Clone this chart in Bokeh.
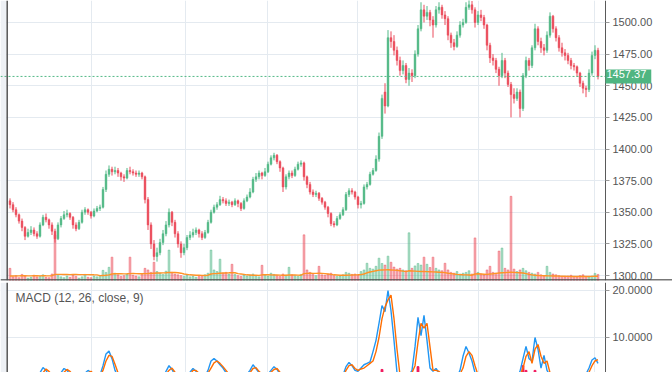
from bokeh.plotting import figure
from bokeh.models import (Range1d, FixedTicker, NumeralTickFormatter, Span, Label,
                          BoxAnnotation, ColumnDataSource)
from bokeh.layouts import column
from bokeh.embed import file_html
from bokeh.resources import INLINE

# ---------------- data ----------------
open_ = [
    1359, 1356, 1352, 1348, 1343, 1338, 1331, 1334, 1336, 1333,
    1331, 1340, 1346, 1344, 1340, 1335, 1329, 1340, 1345, 1348,
    1349, 1346, 1340, 1337, 1342, 1350, 1352, 1350, 1347, 1351,
    1353, 1354, 1368, 1380, 1384, 1382, 1383, 1381, 1378, 1377,
    1383, 1382, 1381, 1380, 1381, 1378, 1360, 1340, 1325, 1315,
    1318, 1326, 1333, 1340, 1350, 1342, 1333, 1325, 1318, 1322,
    1330, 1332, 1334, 1336, 1333, 1330, 1334, 1342, 1350, 1354,
    1356, 1360, 1359, 1357, 1358, 1356, 1359, 1357, 1353, 1359,
    1362, 1366, 1376, 1378, 1381, 1379, 1382, 1388, 1393, 1395,
    1390, 1385, 1370, 1378, 1381, 1379, 1384, 1388, 1389, 1378,
    1372, 1366, 1364, 1365, 1361, 1358, 1354, 1349, 1341, 1340,
    1345, 1348, 1352, 1364, 1367, 1366, 1362, 1356, 1357, 1370,
    1372, 1380, 1383, 1392, 1410, 1445, 1434, 1488, 1485, 1478,
    1470, 1462, 1466, 1455, 1460, 1458, 1475, 1495, 1510, 1505,
    1508, 1502, 1498, 1510, 1512, 1506, 1503, 1490, 1484, 1481,
    1490, 1498, 1500, 1512, 1514, 1510, 1500, 1506, 1504, 1498,
    1482, 1472, 1470, 1463, 1458, 1470, 1460, 1451, 1443, 1440,
    1445, 1432, 1458, 1470, 1466, 1480, 1495, 1485, 1480, 1478,
    1490, 1505, 1495, 1488, 1480, 1476, 1474, 1470, 1466, 1465,
    1460, 1452, 1448, 1447, 1460, 1474, 1478,
]
high = [
    1361, 1358, 1354, 1349, 1345, 1339, 1337, 1339, 1338, 1335,
    1342, 1348, 1349, 1345, 1342, 1337, 1342, 1347, 1351, 1352,
    1350, 1347, 1342, 1344, 1352, 1354, 1353, 1351, 1353, 1355,
    1356, 1370, 1383, 1387, 1386, 1386, 1385, 1382, 1380, 1385,
    1386, 1384, 1383, 1383, 1382, 1379, 1362, 1342, 1328, 1322,
    1329, 1336, 1343, 1353, 1351, 1344, 1335, 1327, 1325, 1332,
    1335, 1337, 1338, 1337, 1335, 1336, 1344, 1352, 1356, 1358,
    1363, 1362, 1361, 1360, 1359, 1361, 1360, 1358, 1361, 1364,
    1369, 1378, 1381, 1383, 1382, 1385, 1390, 1395, 1397, 1396,
    1391, 1386, 1380, 1383, 1383, 1386, 1390, 1391, 1390, 1379,
    1374, 1368, 1367, 1366, 1362, 1359, 1355, 1350, 1343, 1347,
    1350, 1354, 1366, 1369, 1369, 1367, 1363, 1359, 1372, 1374,
    1382, 1385, 1395, 1413, 1443, 1452, 1494, 1493, 1490, 1481,
    1473, 1470, 1468, 1464, 1463, 1478, 1498, 1516, 1514, 1513,
    1510, 1505, 1513, 1516, 1514, 1509, 1505, 1492, 1487, 1493,
    1501, 1503, 1516, 1518, 1517, 1512, 1509, 1510, 1506, 1499,
    1484, 1475, 1472, 1465, 1476, 1472, 1462, 1453, 1448, 1448,
    1447, 1460, 1473, 1472, 1482, 1499, 1497, 1488, 1483, 1493,
    1508, 1506, 1497, 1490, 1484, 1479, 1476, 1472, 1468, 1466,
    1461, 1454, 1450, 1463, 1477, 1482, 1480,
]
low = [
    1353, 1350, 1346, 1341, 1335, 1328, 1330, 1332, 1331, 1329,
    1330, 1339, 1342, 1337, 1332, 1326, 1328, 1338, 1344, 1346,
    1344, 1337, 1335, 1336, 1341, 1348, 1348, 1345, 1346, 1350,
    1351, 1353, 1366, 1378, 1379, 1380, 1378, 1375, 1374, 1376,
    1380, 1379, 1378, 1378, 1376, 1357, 1336, 1321, 1312, 1311,
    1316, 1324, 1331, 1338, 1339, 1330, 1322, 1314, 1316, 1320,
    1328, 1330, 1332, 1330, 1328, 1329, 1333, 1341, 1349, 1352,
    1355, 1357, 1355, 1355, 1354, 1355, 1354, 1351, 1352, 1358,
    1361, 1365, 1374, 1376, 1376, 1378, 1381, 1387, 1391, 1388,
    1382, 1366, 1368, 1376, 1377, 1378, 1383, 1386, 1375, 1369,
    1364, 1362, 1362, 1359, 1356, 1352, 1346, 1339, 1338, 1339,
    1344, 1347, 1351, 1362, 1364, 1360, 1353, 1353, 1356, 1368,
    1371, 1379, 1382, 1390, 1408, 1428, 1433, 1480, 1474, 1466,
    1458, 1459, 1452, 1450, 1453, 1456, 1473, 1493, 1500, 1502,
    1497, 1488, 1496, 1507, 1503, 1498, 1486, 1480, 1478, 1480,
    1488, 1496, 1499, 1510, 1507, 1496, 1498, 1501, 1495, 1478,
    1468, 1466, 1460, 1450, 1456, 1456, 1449, 1425, 1436, 1438,
    1425, 1430, 1456, 1462, 1464, 1478, 1482, 1476, 1474, 1476,
    1488, 1492, 1485, 1477, 1473, 1470, 1467, 1463, 1462, 1457,
    1449, 1444, 1441, 1445, 1458, 1471, 1455,
]
close = [
    1356, 1352, 1348, 1343, 1338, 1331, 1334, 1336, 1333, 1331,
    1340, 1346, 1344, 1340, 1335, 1329, 1340, 1345, 1348, 1349,
    1346, 1340, 1337, 1342, 1350, 1352, 1350, 1347, 1351, 1353,
    1354, 1368, 1380, 1384, 1382, 1383, 1381, 1378, 1377, 1383,
    1382, 1381, 1380, 1381, 1378, 1360, 1340, 1325, 1315, 1318,
    1326, 1333, 1340, 1350, 1342, 1333, 1325, 1318, 1322, 1330,
    1332, 1334, 1336, 1333, 1330, 1334, 1342, 1350, 1354, 1356,
    1360, 1359, 1357, 1358, 1356, 1359, 1357, 1353, 1359, 1362,
    1366, 1376, 1378, 1381, 1379, 1382, 1388, 1393, 1395, 1390,
    1385, 1370, 1378, 1381, 1379, 1384, 1388, 1389, 1378, 1372,
    1366, 1364, 1365, 1361, 1358, 1354, 1349, 1341, 1340, 1345,
    1348, 1352, 1364, 1367, 1366, 1362, 1356, 1357, 1370, 1372,
    1380, 1383, 1392, 1410, 1440, 1434, 1488, 1485, 1478, 1470,
    1462, 1466, 1455, 1460, 1458, 1475, 1495, 1510, 1505, 1508,
    1502, 1498, 1510, 1512, 1506, 1503, 1490, 1484, 1481, 1490,
    1498, 1500, 1512, 1514, 1510, 1500, 1506, 1504, 1498, 1482,
    1472, 1470, 1463, 1458, 1470, 1460, 1451, 1443, 1440, 1445,
    1432, 1458, 1470, 1466, 1480, 1495, 1485, 1480, 1478, 1490,
    1505, 1495, 1488, 1480, 1476, 1474, 1470, 1466, 1465, 1460,
    1452, 1448, 1447, 1460, 1474, 1478, 1457.37,
]
volume = [
    300, 90, 120, 70, 150, 110, 60, 80, 130, 90,
    100, 140, 80, 70, 160, 1125, 120, 90, 70, 110,
    80, 130, 100, 60, 90, 150, 80, 70, 110, 90,
    120, 250, 200, 325, 575, 180, 140, 100, 120, 160,
    575, 130, 110, 90, 150, 300, 260, 200, 450, 220,
    180, 150, 230, 750, 200, 160, 140, 120, 100, 130,
    90, 110, 80, 100, 120, 140, 180, 750, 260, 220,
    525, 180, 200, 160, 400, 150, 120, 100, 140, 110,
    130, 160, 120, 90, 375, 140, 110, 180, 150, 120,
    100, 160, 130, 325, 140, 120, 100, 150, 1125, 260,
    200, 150, 120, 350, 140, 130, 160, 180, 120, 100,
    110, 140, 200, 180, 150, 160, 140, 220, 260, 425,
    300, 280, 350, 550, 420, 380, 600, 450, 330, 280,
    300, 260, 240, 1175, 300, 360, 420, 380, 575, 400,
    320, 575, 300, 260, 240, 425, 260, 200, 180, 220,
    160, 180, 200, 240, 160, 1050, 200, 160, 140, 260,
    350, 200, 180, 725, 800, 300, 260, 2075, 280, 220,
    260, 300, 240, 200, 180, 160, 200, 140, 120, 350,
    200, 160, 140, 120, 100, 90, 110, 130, 100, 80,
    120, 140, 100, 90, 110, 175, 150,
]
volume_ma = [
    110, 112, 115, 113, 118, 116, 114, 115, 117, 116,
    115, 118, 116, 115, 118, 150, 152, 150, 148, 150,
    146, 148, 147, 145, 146, 145, 144, 143, 140, 138,
    120, 125, 130, 140, 160, 165, 166, 165, 164, 166,
    170, 172, 170, 168, 165, 170, 172, 175, 180, 185,
    186, 188, 190, 200, 198, 196, 190, 180, 160, 150,
    140, 135, 130, 128, 126, 125, 130, 160, 170, 172,
    180, 185, 186, 190, 195, 190, 170, 160, 150, 140,
    135, 130, 128, 126, 140, 142, 140, 138, 136, 134,
    132, 130, 128, 135, 136, 134, 132, 130, 170, 175,
    178, 176, 175, 180, 176, 170, 160, 150, 140, 135,
    130, 128, 130, 132, 135, 138, 140, 145, 160, 190,
    210, 225, 240, 255, 260, 262, 265, 260, 255, 250,
    240, 230, 220, 240, 235, 230, 225, 222, 220, 218,
    215, 212, 210, 205, 200, 195, 180, 170, 160, 150,
    145, 140, 138, 135, 130, 160, 165, 160, 155, 150,
    160, 165, 175, 185, 190, 195, 200, 205, 200, 195,
    190, 185, 170, 150, 140, 130, 125, 120, 118, 116,
    115, 112, 110, 108, 106, 104, 102, 100, 99, 98,
    97, 98, 99, 100, 101, 103, 104,
]
macd = [
    1.2, 1.0, 0.8, 0.9, 1.1, 1.3, 1.2, 1.4, 1.6, 2.0,
    2.5, 3.6, 3.0, 2.0, 1.4, 1.0, 1.3, 2.5, 3.4, 3.0,
    2.2, 1.6, 1.2, 1.0, 1.5, 2.4, 3.0, 2.6, 1.8, 1.5,
    2.0, 4.0, 6.5, 7.1, 5.5, 3.0, 1.8, 1.2, 1.0, 1.1,
    1.3, 1.2, 1.0, 0.9, 0.8, 0.6, 0.5, 0.4, 0.5, 0.7,
    1.0, 1.6, 2.8, 4.0, 3.2, 2.0, 1.2, 0.9, 1.1, 1.8,
    2.6, 3.4, 2.8, 2.0, 1.5, 1.8, 3.0, 5.0, 5.5, 5.0,
    4.2, 3.5, 2.5, 1.9, 1.6, 1.5, 1.4, 1.3, 1.6, 2.2,
    3.0, 4.2, 3.4, 2.5, 2.0, 1.8, 2.2, 3.0, 3.8, 3.2,
    2.2, 1.6, 1.4, 1.5, 1.7, 1.6, 1.5, 1.4, 1.2, 1.0,
    0.9, 0.8, 0.8, 0.7, 0.6, 0.6, 0.5, 0.5, 0.6, 0.8,
    1.2, 2.0, 3.8, 4.7, 4.0, 3.0, 2.8, 3.5, 4.2, 4.5,
    4.8, 7.0, 9.4, 13.0, 16.8, 15.5, 20.0, 15.7, 9.4, 2.5,
    1.8, 1.5, 1.6, 2.0, 3.0, 8.0, 14.3, 10.4, 14.7, 9.4,
    3.5, 2.8, 3.4, 2.5, 1.8, 1.4, 1.2, 1.0, 1.1, 1.6,
    3.0, 6.0, 8.1, 6.7, 5.0, 2.5, 1.6, 1.2, 1.0, 0.9,
    0.8, 0.7, 0.7, 0.6, 0.8, 0.7, 0.6, 0.6, 0.8, 1.2,
    2.8, 5.5, 8.1, 5.5, 5.0, 10.0, 7.5, 3.5, 6.2, 3.0,
    2.0, 1.6, 1.3, 1.1, 1.0, 0.9, 0.8, 0.8, 0.9, 1.0,
    1.2, 1.6, 2.2, 3.5, 5.2, 5.7, 4.5,
]
signal = [
    1.3, 1.2, 1.0, 0.9, 1.0, 1.1, 1.2, 1.3, 1.4, 1.6,
    1.9, 2.5, 3.3, 2.8, 2.0, 1.4, 1.2, 1.8, 2.6, 3.2,
    2.8, 2.0, 1.5, 1.2, 1.3, 1.9, 2.5, 2.8, 2.2, 1.7,
    1.8, 3.0, 5.0, 6.2, 6.0, 4.3, 2.5, 1.6, 1.2, 1.1,
    1.2, 1.2, 1.1, 1.0, 0.9, 0.7, 0.6, 0.5, 0.5, 0.6,
    0.8, 1.3, 2.2, 3.0, 3.5, 2.6, 1.6, 1.1, 1.0, 1.4,
    2.1, 3.0, 3.0, 2.4, 1.8, 1.7, 2.4, 3.5, 4.6, 5.0,
    4.5, 3.8, 3.0, 2.2, 1.8, 1.6, 1.5, 1.4, 1.5, 1.9,
    2.5, 3.4, 3.6, 2.8, 2.2, 1.9, 2.0, 2.6, 3.2, 3.4,
    2.6, 1.9, 1.6, 1.5, 1.6, 1.6, 1.5, 1.5, 1.3, 1.1,
    1.0, 0.9, 0.8, 0.8, 0.7, 0.6, 0.6, 0.5, 0.6, 0.7,
    1.0, 1.6, 3.0, 4.0, 4.2, 3.4, 3.0, 3.3, 3.5, 4.0,
    4.5, 5.0, 7.0, 10.0, 14.0, 16.5, 18.0, 19.0, 14.0, 7.5,
    2.0, 1.7, 1.6, 1.8, 2.5, 4.0, 9.0, 13.0, 12.0, 13.0,
    8.0, 3.0, 3.0, 2.8, 2.0, 1.6, 1.3, 1.1, 1.1, 1.4,
    2.2, 3.5, 6.0, 7.0, 6.2, 4.0, 2.0, 1.4, 1.1, 1.0,
    0.9, 0.8, 0.7, 0.7, 0.7, 0.7, 0.7, 0.6, 0.7, 1.0,
    2.0, 3.5, 6.0, 7.0, 4.5, 7.5, 8.5, 6.0, 4.5, 5.0,
    2.5, 1.8, 1.5, 1.2, 1.1, 1.0, 0.9, 0.8, 0.8, 0.9,
    1.1, 1.3, 1.8, 2.6, 4.0, 5.0, 5.3,
]
hist = [
    0, 0, 0, 0, 0, 0, 0, 0, 0, 0,
    0, 0, 0, 0, 0, 0, 0, 0, 0, 0,
    0, 0, 0, 0, 0, 0, 0, 0, 0, 0,
    0, 0, 0, 0, 0, 0, 0, 0, 0, 0,
    0, 0, 0, 0, 0, 0, 0, 0, 0, 0,
    0, 0, 0, 0, 0, 0, 0, 0, 0, 0,
    0, 0, 0, 0, 0, 0, 0, 0, 0, 0,
    0, 0, 0, 0, 0, 0, 0, 0, 0, 0,
    0, 0, 0, 0, 0, 0, 0, 0, 0, 0,
    0, 0, 0, 0, 0, 0, 0, 0, 0, 0,
    0, 0, 0, 0, 0, 0, 0, 0, 0, 0,
    0, 0, 0, 0, 0, 0, 0, 0, 0, 0,
    0, 0, 0, 0, 3.2, 0, 0, 0, 0, 0,
    0, 0, 0, 0, 0, 0, 3.8, 0, 0, 0,
    0, 0, 0, 0, 0, 0, 0, 0, 0, 0,
    0, 0, 0, 0, 0, 0, 0, 0, 0, 0,
    0, 0, 0, 0, 0, 0, 0, 0, 0, 0,
    0, 4.0, 3.0, 0, 0, 3.0, 0, 0, 0, 0,
    0, 0, 0, 0, 0, 0, 0, 0, 0, 0,
    0, 0, 0, 0, 0, 0, 0,
]
price_ticks = [1300, 1325, 1350, 1375, 1400, 1425, 1450, 1475, 1500]
macd_ticks = [10, 20]
period_ticks = [27.17, 58.5, 85.83, 115.83, 156.17, 194.83]
last_price = 1457.37
indicator_title = "MACD (12, 26, close, 9)"

n = len(close)
for name, arr in [("open", open_), ("high", high), ("low", low), ("volume", volume),
                  ("volume_ma", volume_ma), ("macd", macd), ("signal", signal), ("hist", hist)]:
    if len(arr) != n:
        raise SystemExit(f"length mismatch {name}: {len(arr)} vs {n}")

# ---------------- styles ----------------
UP = "#53b987"
DOWN = "#eb4d5c"
GRID = "#e4eaf0"
AXIS_TXT = "#555555"
FONT = "Liberation Sans"
PX = 3.0                      # pixels per bar
X0 = -9.5 / PX                # left edge of the figure, in bar units
X_AX = X0 + 605 / PX          # position of the price scale
X1 = X0 + 672 / PX            # right edge of the figure

idx = list(range(n))
colors = [UP if c >= o else DOWN for o, c in zip(open_, close)]
src = ColumnDataSource(dict(
    x=idx, high=high, low=low,
    top=[max(o, c) for o, c in zip(open_, close)],
    bottom=[min(o, c) for o, c in zip(open_, close)],
    color=colors, volume=volume, vol_ma=volume_ma,
    macd=macd, signal=signal, hist=hist,
))

x_range = Range1d(X0, X1)


def style(p, ticks, fmt):
    ax = p.yaxis[0]
    ax.fixed_location = X_AX
    ax.ticker = FixedTicker(ticks=ticks)
    ax.formatter = NumeralTickFormatter(format=fmt)
    ax.axis_line_color = "#5a5a5a"
    ax.major_tick_line_color = "#9a9a9a"
    ax.major_tick_out = 4
    ax.major_tick_in = 0
    ax.minor_tick_line_color = None
    ax.major_label_standoff = 3
    ax.major_label_text_font = FONT
    ax.major_label_text_font_size = "11px"
    ax.major_label_text_color = AXIS_TXT
    p.xgrid.ticker = FixedTicker(ticks=period_ticks)
    p.xgrid.grid_line_color = GRID
    p.ygrid.grid_line_color = GRID
    # keep the scale area (right of the price scale) free of grid lines
    p.add_layout(BoxAnnotation(left=X_AX, right=X1, fill_color="white", fill_alpha=1,
                               line_color=None, level="underlay"))
    # light strip and dark border on the left
    p.add_layout(BoxAnnotation(left=X0, right=X0 + 6 / PX, fill_color="#eef1f5", fill_alpha=1,
                               line_color=None, level="underlay"))
    p.add_layout(Span(location=X0 + 6.7 / PX, dimension="height", line_color="#555555",
                      line_width=1.5))


common = dict(x_range=x_range, x_axis_location=None, y_axis_location="right",
              toolbar_location=None, output_backend="svg", width=672,
              min_border_left=0, min_border_right=0, min_border_top=0,
              outline_line_color=None, background_fill_color="white", border_fill_color="white")

# ---------------- price panel ----------------
p1 = figure(height=282, min_border_bottom=2, y_range=Range1d(1296.05, 1517.39), **common)
style(p1, price_ticks, "0.00")
p1.extra_y_ranges = {"vol": Range1d(0, 6900)}
p1.vbar(x="x", bottom=0, top="volume", width=0.6, fill_color="color", line_color="color",
        fill_alpha=0.45, line_alpha=0.45, y_range_name="vol", source=src)
p1.line(x="x", y="vol_ma", line_color="#ff9326", line_width=1.4, y_range_name="vol", source=src)
p1.segment(x0="x", y0="high", x1="x", y1="low", line_color="color", line_width=1, source=src)
p1.vbar(x="x", bottom="bottom", top="top", width=0.6, fill_color="color", line_color="color",
        line_width=0.5, source=src)
# last-price line up to the price scale
p1.segment(x0=[X0], x1=[X_AX], y0=[last_price], y1=[last_price], line_color=UP, line_width=1,
           line_dash="2 2")
# separator between the two panes
p1.add_layout(Span(location=1296.5, dimension="width", line_color="#4a4a4a", line_width=1.5))
p1.add_layout(Label(x=X_AX, y=last_price, text=f"{last_price:.2f}", text_color="white",
                    text_font=FONT, text_font_size="11px", text_baseline="middle",
                    text_align="left", background_fill_color="#4fb581",
                    padding=(1, 5, 1, 5)))

# ---------------- MACD panel ----------------
p2 = figure(height=90, min_border_bottom=0, y_range=Range1d(2.553, 21.70), **common)
style(p2, macd_ticks, "0.0000")
p2.vbar(x="x", bottom=0, top="hist", width=0.6, color="#f0145a", source=src)
p2.line(x="x", y="macd", line_color="#2196f3", line_width=1.4, source=src)
p2.line(x="x", y="signal", line_color="#ff6d00", line_width=1.4, source=src)
p2.add_layout(Label(x=15, y=75, x_units="screen", y_units="screen", text=indicator_title,
                    text_font=FONT, text_font_size="12px", text_color=AXIS_TXT,
                    text_baseline="middle"))

layout = column(p1, p2, spacing=0)
open("out.html", "w").write(file_html(layout, INLINE))
